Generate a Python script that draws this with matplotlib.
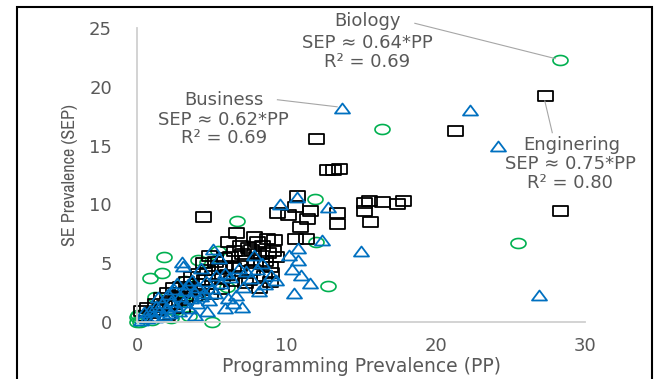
import numpy as np
import matplotlib
matplotlib.use("Agg")
import matplotlib.pyplot as plt
from matplotlib.path import Path
from matplotlib.patches import Rectangle
from matplotlib import font_manager as fm

# Engineering (squares)
eng_pp = [0.5, 0.7, 1.0, 1.2, 1.5, 1.6, 1.8, 2.0, 2.2, 2.4, 2.5, 2.7, 2.9, 3.0, 3.2,
          3.3, 3.5, 3.6, 3.8, 4.0, 4.1, 4.3, 4.4, 4.5, 4.7, 4.9, 5.0, 5.2, 5.3, 5.5,
          5.6, 5.8, 6.0, 6.2, 6.3, 6.5, 6.6, 6.8, 7.0, 7.2, 7.4, 7.6, 7.8, 7.9, 8.1,
          8.2, 8.4, 8.6, 8.7, 8.9, 8.9, 9.0, 9.1, 9.3, 9.4, 10.1, 10.6, 10.7, 10.6,
          10.9, 11.3, 11.4, 11.6, 12.0, 12.7, 13.1, 13.5, 13.4, 13.4, 15.2, 15.5,
          15.2, 15.6, 16.4, 17.4, 17.8, 21.3, 27.3, 28.3, 4.4, 2.0, 1.3, 0.3, 3.0,
          6.4, 6.9, 7.3, 7.7, 8.0, 8.3, 8.5, 8.8, 9.2, 5.7, 6.1, 7.5, 4.8, 5.9]
eng_sep = [0.5, 1.2, 0.8, 1.5, 1.0, 2.0, 1.4, 2.5, 1.8, 2.9, 1.5, 2.2, 3.0, 2.5, 1.9,
           3.4, 2.8, 3.8, 2.2, 3.2, 4.1, 2.7, 5.0, 3.6, 4.4, 2.4, 3.9, 5.1, 3.2, 4.5,
           2.8, 5.4, 4.0, 5.5, 3.5, 6.0, 7.6, 4.8, 5.8, 3.3, 6.3, 6.1, 7.2, 5.0, 5.8,
           2.9, 6.5, 5.2, 7.1, 4.7, 3.4, 4.2, 6.0, 5.5, 9.3, 9.1, 9.8, 10.7, 7.1,
           8.1, 7.1, 8.8, 9.4, 15.6, 12.9, 12.9, 13.0, 9.3, 8.3, 10.1, 10.3,
           9.4, 8.5, 10.2, 10.0, 10.3, 16.2, 19.2, 9.4, 8.9, 0.6, 0.4, 0.9, 1.2,
           4.6, 6.5, 5.2, 4.4, 6.8, 4.9, 3.9, 5.9, 7.0, 3.7, 6.8, 3.6, 5.6, 4.8]

# Business (triangles)
bus_pp = [0.3, 0.5, 0.7, 0.9, 1.0, 1.2, 1.3, 1.4, 1.5, 1.7, 1.8, 2.0, 2.1, 2.2, 2.3,
          2.5, 2.6, 2.7, 2.8, 2.9, 3.0, 3.1, 3.1, 3.2, 3.4, 3.5, 3.6, 3.7, 3.8, 3.9,
          4.0, 4.1, 4.3, 4.3, 4.5, 4.6, 4.7, 4.8, 5.0, 5.1, 5.2, 5.3, 5.5, 5.6, 5.9,
          5.9, 6.1, 6.2, 6.4, 6.6, 6.8, 7.0, 7.1, 7.3, 7.6, 7.8, 8.0, 8.2, 8.4, 8.6,
          9.0, 9.3, 9.6, 10.2, 10.4, 10.5, 10.7, 10.8, 10.8, 11.0, 11.6, 12.4, 12.8,
          13.7, 15.0, 22.3, 24.2, 26.9]
bus_sep = [0.2, 0.85, 0.3, 1.0, 0.5, 0.4, 1.4, 2.1, 0.9, 1.6, 0.6, 1.2, 2.4, 0.8, 1.8,
           2.8, 1.4, 3.3, 0.9, 2.2, 5.1, 4.8, 1.7, 2.7, 3.2, 1.2, 2.0, 3.6, 2.6, 0.6,
           1.6, 3.0, 4.6, 2.2, 2.5, 3.5, 0.9, 1.9, 2.9, 6.2, 2.5, 4.0, 5.4, 3.3, 4.2,
           1.2, 2.0, 3.8, 1.6, 2.3, 4.6, 1.3, 3.0, 4.3, 3.7, 5.7, 4.5, 2.6, 5.0, 3.2,
           4.0, 3.6, 10.0, 5.7, 4.5, 2.5, 10.6, 6.3, 5.3, 4.0, 3.3, 7.0, 9.8,
           18.2, 6.0, 18.0, 15.0, 2.3]

# Biology (circles)
bio_pp = [0.0, 0.2, 0.0, 0.1, 0.9, 1.2, 1.7, 1.8, 2.3, 2.5, 3.0, 3.5, 4.1, 4.7, 5.0,
          5.4, 6.7, 4.0, 6.0, 11.9, 12.0, 12.8, 16.4, 25.5, 28.3, 1.0, 3.2]
bio_sep = [0.0, 0.0, 0.4, 0.6, 3.7, 2.1, 4.2, 5.5, 0.3, 1.0, 1.8, 0.5, 5.3, 5.1, 0.0,
           6.0, 8.6, 2.2, 3.0, 10.5, 6.8, 3.1, 16.4, 6.7, 22.3, 0.2, 3.5]

GRAY = "#595959"
plt.rcParams["font.family"] = ["DejaVu Sans"]

# narrow font for the rotated y label, if one is installed
names = {f.name for f in fm.fontManager.ttflist}
narrow = [n for n in names if "Narrow" in n or "Condensed" in n]
if narrow:
    ylab_font, ylab_size = [sorted(narrow)[0], "Liberation Sans"], 13
else:
    ylab_font, ylab_size = ["Liberation Sans"], 11

# wide markers (about 3:2)
sq = Path([(-1.5, -1), (1.5, -1), (1.5, 1), (-1.5, 1), (-1.5, -1)], closed=True)
tri = Path([(-1.5, -1), (1.5, -1), (0, 1), (-1.5, -1)], closed=True)
t = np.linspace(0, 2 * np.pi, 41)
ell = Path(np.column_stack([1.5 * np.cos(t), np.sin(t)]), closed=True)

fig = plt.figure(figsize=(6.59, 3.79), dpi=100)
ax = fig.add_axes([0.2079, 0.1504, 0.680, 0.7757])

ms = 10.8
ax.plot(bio_pp, bio_sep, ls="none", marker=ell, ms=ms, mfc="none", mec="#00B050",
        mew=1.2, clip_on=False)
ax.plot(eng_pp, eng_sep, ls="none", marker=sq, ms=ms, mfc="none", mec="black",
        mew=1.3, clip_on=False)
ax.plot(bus_pp, bus_sep, ls="none", marker=tri, ms=ms, mfc="none", mec="#0070C0",
        mew=1.3, clip_on=False)

ax.set_xlim(0, 30)
ax.set_ylim(0, 25)
ax.set_xticks([0, 10, 20, 30])
ax.set_yticks([0, 5, 10, 15, 20, 25])
ax.tick_params(length=0, labelsize=13, labelcolor=GRAY)
ax.tick_params(axis="y", pad=18)
ax.tick_params(axis="x", pad=11)
for s in ["top", "right"]:
    ax.spines[s].set_visible(False)
for s in ["left", "bottom"]:
    ax.spines[s].set_color("#d0d0d0")
    ax.spines[s].set_linewidth(1.3)

ax.set_xlabel("Programming Prevalence (PP)", fontsize=13.5, color=GRAY, labelpad=1)
ax.set_ylabel("SE Prevalence (SEP)", fontsize=ylab_size, color=GRAY, labelpad=8,
              family=ylab_font)

lab = dict(ha="center", va="center", color=GRAY, fontsize=13, linespacing=1.05)
ax.text(15.4, 25.6, "Biology", **lab)
ax.text(15.4, 22.9, "SEP \u2248 0.64*PP\nR\u00b2 = 0.69", **lab)
ax.text(5.8, 18.9, "Business", **lab)
ax.text(5.8, 16.4, "SEP \u2248 0.62*PP\nR\u00b2 = 0.69", **lab)
ax.text(29.1, 15.05, "Enginering", **lab)
ax.text(29.0, 12.6, "SEP \u2248 0.75*PP\nR\u00b2 = 0.80", **lab)

lc = dict(color="#a6a6a6", lw=0.8, clip_on=False)
ax.plot([18.6, 28.0], [25.4, 22.4], **lc)
ax.plot([9.4, 13.4], [18.9, 18.3], **lc)
ax.plot([27.3, 27.8], [18.8, 16.1], **lc)

fig.patches.append(Rectangle((17 / 659, -0.02), (652 - 17) / 659, 0.02 + 1 - 7 / 379,
                             transform=fig.transFigure, fill=False, ec="black",
                             lw=1.5))

fig.savefig("out.png", dpi=100)
